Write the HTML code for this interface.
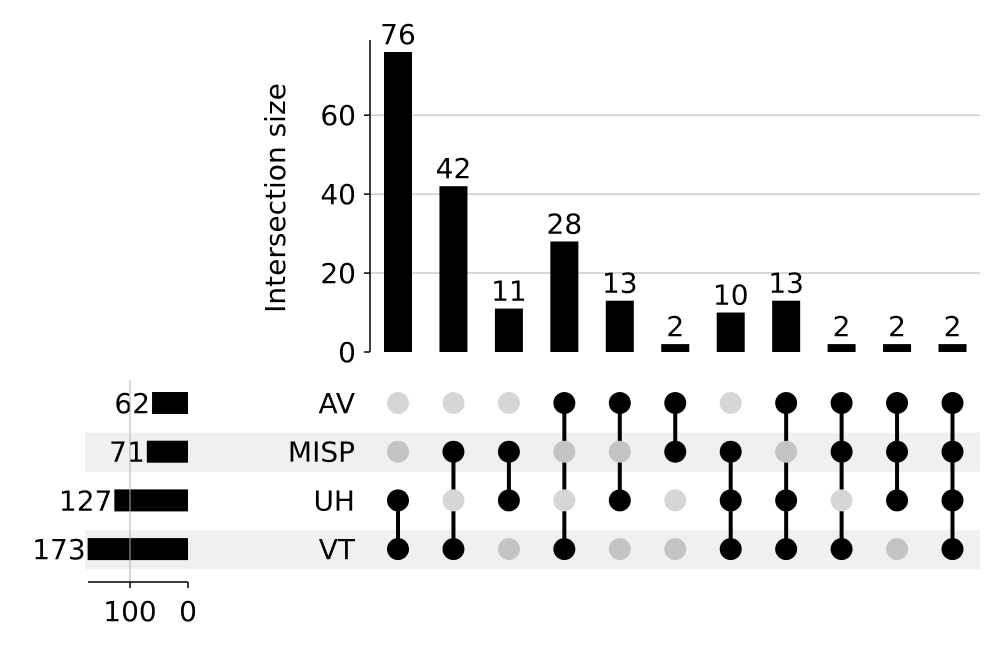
<!DOCTYPE html>
<html><head><meta charset="utf-8"><style>
body{margin:0;background:#fff;}
svg{display:block;font-family:"DejaVu Sans","Liberation Sans",sans-serif;}
</style></head><body>
<svg id="c" width="997" height="647"></svg>
<script>
const sets=["AV","MISP","UH","VT"];
const setSizes=[62,71,127,173];
const intersections=[76,42,11,28,13,2,10,13,2,2,2];
const members=[["UH","VT"],["MISP","VT"],["MISP","UH"],["AV","VT"],["AV","UH"],["AV","MISP"],["MISP","UH","VT"],["AV","UH","VT"],["AV","MISP","VT"],["AV","MISP","UH"],["AV","MISP","UH","VT"]];
const yTicks=[0,20,40,60];
const xTicks=[100,0];
const NS="http://www.w3.org/2000/svg";
const svg=document.getElementById("c");
const FS=28;
function el(t,a,p){const e=document.createElementNS(NS,t);for(const k in a)e.setAttribute(k,a[k]);(p||svg).appendChild(e);return e;}
const y0=352,ys=300/76;
const Y=v=>y0-v*ys;
const X=i=>398+i*55.45;
const rowY=i=>403+i*48.7;
const SX=v=>188-v*0.58;
sets.forEach((s,i)=>{if(i%2==1){const r=el("rect",{x:85,y:rowY(i)-19,width:895,height:39,fill:"#f0f0f0"});

}});
yTicks.forEach(v=>{if(v>0){const g=el("line",{x1:370,x2:980,y1:Y(v),y2:Y(v),stroke:"#b0b0b0","stroke-width":1});

}
const t=el("text",{x:356,y:Y(v)+10,"text-anchor":"end","font-size":FS});t.textContent=v;


el("line",{x1:364,x2:370,y1:Y(v),y2:Y(v),stroke:"#000","stroke-width":1.5});});
el("line",{x1:370,x2:370,y1:40,y2:352,stroke:"#000","stroke-width":1.5});
const yt=el("text",{x:0,y:0,"font-size":FS,"text-anchor":"middle",transform:"translate(285,198) rotate(-90)"});yt.textContent="Intersection size";


intersections.forEach((v,i)=>{
const b=el("rect",{x:X(i)-14,y:Y(v),width:28,height:y0-Y(v),fill:"#000"});


const t=el("text",{x:X(i),y:Y(v)-8,"text-anchor":"middle","font-size":FS});t.textContent=v;

});
sets.forEach((s,i)=>{
const t=el("text",{x:355,y:rowY(i)+10,"text-anchor":"end","font-size":FS});t.textContent=s;


const b=el("rect",{x:SX(setSizes[i]),y:rowY(i)-11,width:188-SX(setSizes[i]),height:22,fill:"#000"});


const v=el("text",{x:SX(setSizes[i])-2,y:rowY(i)+10,"text-anchor":"end","font-size":FS});v.textContent=setSizes[i];

});
el("line",{x1:130,x2:130,y1:380,y2:582,stroke:"#b0b0b0","stroke-width":1});
el("line",{x1:88,x2:188,y1:582,y2:582,stroke:"#000","stroke-width":1.5});
xTicks.forEach(v=>{el("line",{x1:SX(v),x2:SX(v),y1:582,y2:588,stroke:"#000","stroke-width":1.5});
const t=el("text",{x:SX(v),y:621,"text-anchor":"middle","font-size":FS});t.textContent=v;

});
members.forEach((m,i)=>{
const idx=m.map(s=>sets.indexOf(s));
const mn=Math.min(...idx),mx=Math.max(...idx);
el("line",{x1:X(i),x2:X(i),y1:rowY(mn),y2:rowY(mx),stroke:"#000","stroke-width":4});
sets.forEach((s,j)=>{const on=idx.includes(j);
const d=el("circle",{cx:X(i),cy:rowY(j),r:11,fill:on?"#000":(j%2?"#c4c4c4":"#d6d6d6")});

});});
</script>
</body></html>
